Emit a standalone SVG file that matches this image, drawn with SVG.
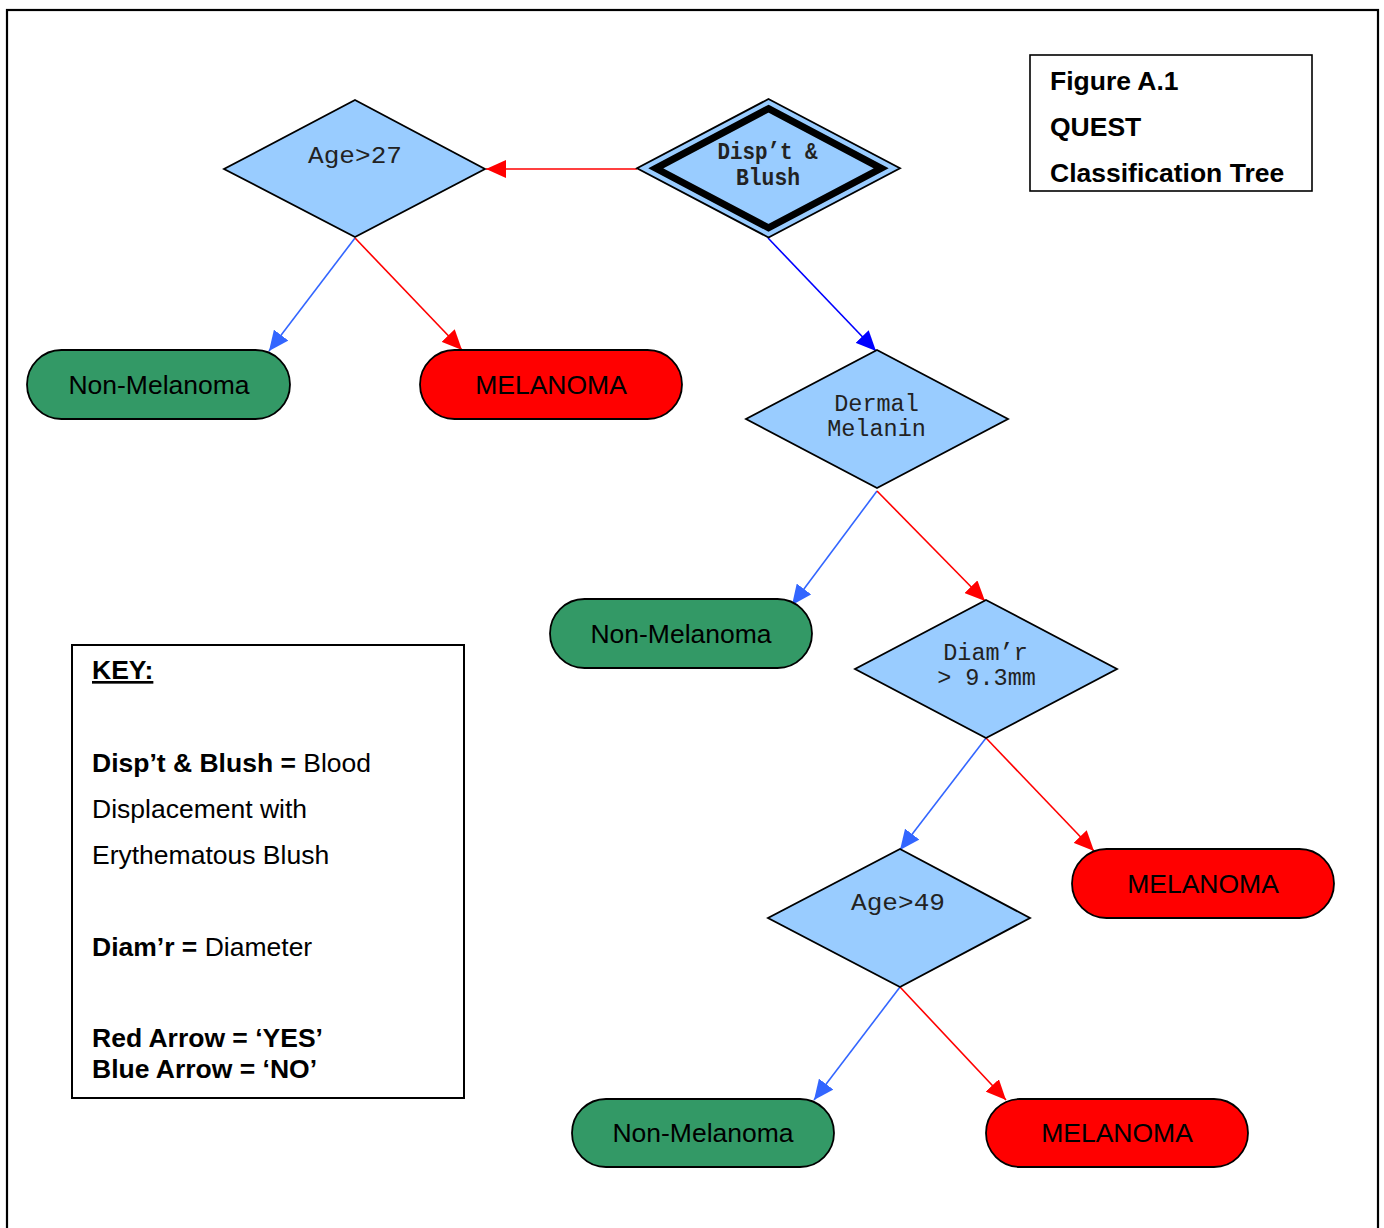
<svg xmlns="http://www.w3.org/2000/svg" width="1384" height="1228" viewBox="0 0 1384 1228">
<defs>
<style>
.dia{fill:#99ccff;stroke:#000;stroke-width:1.8;}
.mono{font-family:"Liberation Mono","Courier New",monospace;font-size:23.5px;fill:#222;text-anchor:middle;}
.pill{stroke:#000;stroke-width:1.8;}
.yes{fill:#ff0000;}
.no{fill:#339966;}
.pt{font-family:"Liberation Sans",Arial,sans-serif;font-size:26.5px;fill:#000;text-anchor:middle;}
.sans{font-family:"Liberation Sans",Arial,sans-serif;font-size:26.5px;fill:#000;}
.b{font-weight:bold;}
.r{stroke:#ff0000;stroke-width:1.6;fill:none;marker-end:url(#mr);}
.bl{stroke:#3366ff;stroke-width:1.6;fill:none;marker-end:url(#mb);}
.db{stroke:#0000ff;stroke-width:1.6;fill:none;marker-end:url(#md);}
</style>
<marker id="mr" viewBox="0 0 20 18" refX="20" refY="9" markerWidth="20" markerHeight="18" markerUnits="userSpaceOnUse" orient="auto"><path d="M0,0 L20,9 L0,18 z" fill="#ff0000"/></marker>
<marker id="mb" viewBox="0 0 20 18" refX="20" refY="9" markerWidth="20" markerHeight="18" markerUnits="userSpaceOnUse" orient="auto"><path d="M0,0 L20,9 L0,18 z" fill="#3366ff"/></marker>
<marker id="md" viewBox="0 0 20 18" refX="20" refY="9" markerWidth="20" markerHeight="18" markerUnits="userSpaceOnUse" orient="auto"><path d="M0,0 L20,9 L0,18 z" fill="#0000ff"/></marker>
</defs>
<rect width="1384" height="1228" fill="#fff"/>
<rect x="7" y="10" width="1371" height="1240" fill="none" stroke="#000" stroke-width="2.2"/>

<g id="connectors">
<line class="r" x1="637" y1="169" x2="486" y2="169"/>
<line class="bl" x1="355" y1="238" x2="269" y2="351"/>
<line class="r" x1="355" y1="238" x2="462" y2="350"/>
<line class="db" x1="768" y1="238" x2="876" y2="351"/>
<line class="bl" x1="877" y1="491" x2="792" y2="605"/>
<line class="r" x1="877" y1="491" x2="985" y2="601"/>
<line class="bl" x1="986" y1="738" x2="900" y2="850"/>
<line class="r" x1="986" y1="738" x2="1094" y2="851"/>
<line class="bl" x1="900" y1="987" x2="814" y2="1100"/>
<line class="r" x1="900" y1="987" x2="1006" y2="1100"/>
</g>

<g id="disp">
<polygon class="dia" points="768.5,99 900,168.3 768.5,237.5 637,168.3"/>
<polygon points="768.5,108.6 881.2,168.3 768.5,227.8 655.8,168.3" fill="#99ccff" stroke="#000" stroke-width="7"/>
<text class="mono b" x="767.5" y="159" font-size="17" textLength="100" lengthAdjust="spacingAndGlyphs">Disp’t &amp;</text>
<text class="mono b" x="768" y="184.5" font-size="17" textLength="64" lengthAdjust="spacingAndGlyphs">Blush</text>
</g>

<g id="age27">
<polygon class="dia" points="355,100 485,169 355,237 224,169"/>
<text class="mono" x="355" y="163" font-size="25" textLength="94" lengthAdjust="spacingAndGlyphs">Age&gt;27</text>
</g>

<g id="nonmel1">
<rect class="pill no" x="27" y="350" width="263" height="69" rx="34.5"/>
<text class="pt" x="159" y="394">Non-Melanoma</text>
</g>

<g id="mel1">
<rect class="pill yes" x="420" y="350" width="262" height="69" rx="34.5"/>
<text class="pt" x="551" y="394">MELANOMA</text>
</g>

<g id="dermal">
<polygon class="dia" points="877,350 1008,419 877,488 746,419"/>
<text class="mono" x="876.5" y="411">Dermal</text>
<text class="mono" x="876.5" y="436">Melanin</text>
</g>

<g id="nonmel2">
<rect class="pill no" x="550" y="599" width="262" height="69" rx="34.5"/>
<text class="pt" x="681" y="643">Non-Melanoma</text>
</g>

<g id="diam">
<polygon class="dia" points="986,600 1117,669 986,738 855,669"/>
<text class="mono" x="985.5" y="660">Diam’r</text>
<text class="mono" x="986.5" y="685">&gt; 9.3mm</text>
</g>

<g id="mel2">
<rect class="pill yes" x="1072" y="849" width="262" height="69" rx="34.5"/>
<text class="pt" x="1203" y="893">MELANOMA</text>
</g>

<g id="age49">
<polygon class="dia" points="900,849 1030,918 900,987 768,918"/>
<text class="mono" x="898" y="910" font-size="25" textLength="94" lengthAdjust="spacingAndGlyphs">Age&gt;49</text>
</g>

<g id="nonmel3">
<rect class="pill no" x="572" y="1099" width="262" height="68" rx="34"/>
<text class="pt" x="703" y="1142">Non-Melanoma</text>
</g>

<g id="mel3">
<rect class="pill yes" x="986" y="1099" width="262" height="68" rx="34"/>
<text class="pt" x="1117" y="1142">MELANOMA</text>
</g>

<g id="title">
<rect x="1030" y="55" width="282" height="136" fill="#fff" stroke="#000" stroke-width="1.6"/>
<text class="sans b" x="1050" y="90">Figure A.1</text>
<text class="sans b" x="1050" y="136">QUEST</text>
<text class="sans b" x="1050" y="182">Classification Tree</text>
</g>

<g id="key">
<rect x="72" y="645" width="392" height="453" fill="#fff" stroke="#000" stroke-width="2"/>
<text class="sans b" x="92" y="679" text-decoration="underline">KEY:</text>
<text class="sans" x="92" y="772"><tspan class="b">Disp’t &amp; Blush =</tspan> Blood</text>
<text class="sans" x="92" y="818">Displacement with</text>
<text class="sans" x="92" y="864">Erythematous Blush</text>
<text class="sans" x="92" y="956"><tspan class="b">Diam’r =</tspan> Diameter</text>
<text class="sans b" x="92" y="1047">Red Arrow = ‘YES’</text>
<text class="sans b" x="92" y="1078">Blue Arrow = ‘NO’</text>
</g>
</svg>
